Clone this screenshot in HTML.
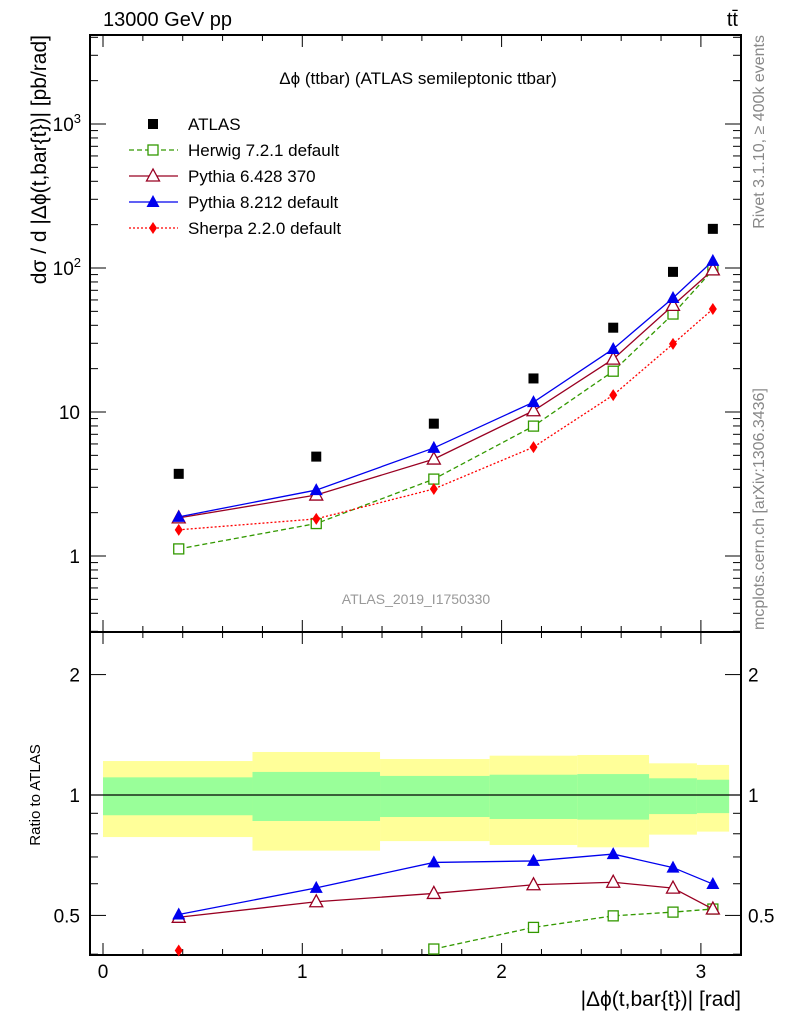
<!DOCTYPE html>
<html><head><meta charset="utf-8"><style>
body{margin:0;background:#fff}
svg{display:block;font-family:"Liberation Sans",sans-serif}
</style></head><body>
<svg id="c" width="786" height="1024" xmlns="http://www.w3.org/2000/svg"></svg>
<script>
const binEdges=[0,0.75,1.39,1.94,2.38,2.74,2.98,3.1416];
const binCenters=[0.38,1.07,1.66,2.16,2.56,2.86,3.06];
const atlas=[3.72,4.9,8.3,17.1,38.5,94,187];
const herwig=[1.12,1.68,3.42,7.98,19.2,47.9,97];
const pythia6=[1.84,2.65,4.71,10.2,23.3,55,97];
const pythia8=[1.87,2.87,5.63,11.7,27.4,61.9,112];
const sherpa=[1.52,1.81,2.92,5.7,13.1,29.7,51.9];
const yellowUp=[1.216,1.281,1.230,1.254,1.259,1.200,1.189];
const yellowDn=[0.785,0.726,0.767,0.750,0.740,0.796,0.810];
const greenUp=[1.107,1.142,1.116,1.124,1.128,1.101,1.092];
const greenDn=[0.890,0.861,0.881,0.871,0.868,0.896,0.901];
const mainTicks=[1,10,100,1000];
const mainTickLabels=["1","10","10<tspan dy='-8' font-size='13'>2</tspan>","10<tspan dy='-8' font-size='13'>3</tspan>"];
const ratioTicks=[0.5,1,2];
const ratioTickLabels=["0.5","1","2"];
const xTicks=[0,1,2,3];

const svg=document.getElementById('c');
const NS='http://www.w3.org/2000/svg';
const X0=90,X1=741,MT=35,MB=632,RB=955;
const xs=v=>103+v*199.3;
const ym=v=>556-144*Math.log10(v);
const yr=v=>795-400*Math.log10(v);
function el(tag,attrs,parent,name,txt){const e=document.createElementNS(NS,tag);for(const k in attrs)e.setAttribute(k,attrs[k]);


if(txt!==undefined)e.innerHTML=txt;(parent||svg).appendChild(e);return e;}

binCenters.forEach((c,i)=>{
 el('rect',{x:xs(binEdges[i]),y:yr(yellowUp[i]),width:xs(binEdges[i+1])-xs(binEdges[i]),height:yr(yellowDn[i])-yr(yellowUp[i]),fill:'#ffff99'},svg,'ratio-total-band');
});
binCenters.forEach((c,i)=>{
 el('rect',{x:xs(binEdges[i]),y:yr(greenUp[i]),width:xs(binEdges[i+1])-xs(binEdges[i]),height:yr(greenDn[i])-yr(greenUp[i]),fill:'#99ff99'},svg,'ratio-stat-band');
});
el('line',{x1:X0,x2:X1,y1:yr(1),y2:yr(1),stroke:'#000','stroke-width':1.2},svg,'ratio-unity-line');

el('rect',{x:X0,y:MT,width:X1-X0,height:MB-MT,fill:'none',stroke:'#000','stroke-width':2},svg,'main-frame');
el('rect',{x:X0,y:MB,width:X1-X0,height:RB-MB,fill:'none',stroke:'#000','stroke-width':2},svg,'ratio-frame');

for(let v=0;v<=3.2;v+=0.2){const x=xs(v);if(x>X1)break;const maj=Math.abs(v-Math.round(v))<1e-6;const L=maj?12:6;
 [[MT,1],[MB,-1],[MB,1],[RB,-1]].forEach(([y,d])=>el('line',{x1:x,x2:x,y1:y,y2:y+d*L,stroke:'#000'},svg,'x-tick'));}
xTicks.forEach(v=>el('text',{x:xs(v),y:978,'font-size':19,'text-anchor':'middle'},svg,'x-tick-label',v));
for(let d=-1;d<=3;d++)for(let m=1;m<10;m++){const v=m*Math.pow(10,d);const y=ym(v);if(y<MT||y>MB)continue;const L=m==1?16:8;
 el('line',{x1:X0,x2:X0+L,y1:y,y2:y,stroke:'#000'},svg,'y-tick');el('line',{x1:X1,x2:X1-L,y1:y,y2:y,stroke:'#000'},svg,'y-tick');}
mainTicks.forEach((v,i)=>el('text',{x:i>=2?81:80,y:ym(v)+7,'font-size':19,'text-anchor':'end'},svg,'y-tick-label',mainTickLabels[i]));
[0.4,0.5,0.6,0.7,0.8,0.9,1,2].forEach(v=>{const y=yr(v);if(y>RB)return;const L=(v==0.5||v==1||v==2)?16:8;
 el('line',{x1:X0,x2:X0+L,y1:y,y2:y,stroke:'#000'},svg,'ratio-tick');el('line',{x1:X1,x2:X1-L,y1:y,y2:y,stroke:'#000'},svg,'ratio-tick');});
ratioTicks.forEach((v,i)=>{el('text',{x:80,y:yr(v)+7,'font-size':19,'text-anchor':'end'},svg,'ratio-tick-label',ratioTickLabels[i]);
 el('text',{x:748,y:yr(v)+7,'font-size':19},svg,'ratio-tick-label-right',ratioTickLabels[i]);});

function marker(kind,x,y,col,g){
 if(kind=='sq')el('rect',{x:x-5,y:y-5,width:10,height:10,fill:'#000'},g,'marker');
 if(kind=='osq')el('rect',{x:x-5,y:y-5,width:10,height:10,fill:'#fff',stroke:col,'stroke-width':1.3},g,'marker');
 if(kind=='otri')el('polygon',{points:`${x},${y-7} ${x-6.5},${y+5} ${x+6.5},${y+5}`,fill:'#fff',stroke:col,'stroke-width':1.3},g,'marker');
 if(kind=='tri')el('polygon',{points:`${x},${y-7} ${x-6.5},${y+5} ${x+6.5},${y+5}`,fill:col},g,'marker');
 if(kind=='dia')el('polygon',{points:`${x},${y-6} ${x-4},${y} ${x},${y+6} ${x+4},${y}`,fill:col},g,'marker');
}
const series=[
 {n:'herwig',d:herwig,c:'#339900',dash:'5,3',m:'osq'},
 {n:'pythia6',d:pythia6,c:'#990022',dash:'',m:'otri'},
 {n:'pythia8',d:pythia8,c:'#0000ee',dash:'',m:'tri'},
 {n:'sherpa',d:sherpa,c:'#ff0000',dash:'2,2',m:'dia'}];
series.forEach(s=>{
 const g=el('g',{},svg,s.n+'-series');
 el('polyline',{points:s.d.map((v,i)=>xs(binCenters[i])+','+ym(v)).join(' '),fill:'none',stroke:s.c,'stroke-width':1.3,'stroke-dasharray':s.dash},g,s.n+'-line');
 s.d.forEach((v,i)=>marker(s.m,xs(binCenters[i]),ym(v),s.c,g));
 const gr=el('g',{},svg,s.n+'-ratio-series');
 const pts=[];s.d.forEach((v,i)=>{const r=v/atlas[i];const y=yr(r);if(y<=RB+1&&y>=MB)pts.push([xs(binCenters[i]),y]);});
 if(pts.length>1)el('polyline',{points:pts.map(p=>p.join(',')).join(' '),fill:'none',stroke:s.c,'stroke-width':1.3,'stroke-dasharray':s.dash},gr,s.n+'-ratio-line');
 pts.forEach(p=>marker(s.m,p[0],p[1],s.c,gr));
});
const ga=el('g',{},svg,'atlas-series');
atlas.forEach((v,i)=>marker('sq',xs(binCenters[i]),ym(v),'#000',ga));

const leg=el('g',{},svg,'legend');
const lg=[['sq','#000','','ATLAS'],['osq','#339900','5,3','Herwig 7.2.1 default'],['otri','#990022','','Pythia 6.428 370'],['tri','#0000ee','','Pythia 8.212 default'],['dia','#ff0000','2,2','Sherpa 2.2.0 default']];
lg.forEach((l,i)=>{const y=124+i*26;const e=el('g',{},leg,'legend-entry');
 if(i>0)el('line',{x1:129,x2:178,y1:y,y2:y,stroke:l[1],'stroke-width':1.3,'stroke-dasharray':l[2]},e,'legend-line');
 marker(l[0],153,y,l[1],e);
 el('text',{x:188,y:y+6,'font-size':17},e,'legend-label',l[3]);});

el('text',{x:103,y:26,'font-size':20},svg,'energy-label','13000 GeV pp');
el('text',{x:738,y:26,'font-size':20,'text-anchor':'end'},svg,'process-label','tt̄');
el('text',{x:418,y:84,'font-size':17,'text-anchor':'middle'},svg,'plot-title','Δϕ (ttbar) (ATLAS semileptonic ttbar)');
el('text',{x:416,y:604,'font-size':14,'text-anchor':'middle',fill:'#999'},svg,'analysis-id','ATLAS_2019_I1750330');
el('text',{x:741,y:1006,'font-size':21,'text-anchor':'end'},svg,'x-axis-title','|Δϕ(t,bar{t})| [rad]');
el('text',{transform:'translate(46,35) rotate(-90)','font-size':21,'text-anchor':'end'},svg,'y-axis-title','dσ / d |Δϕ(t,bar{t})| [pb/rad]');
el('text',{transform:'translate(40,795) rotate(-90)','font-size':15,'text-anchor':'middle'},svg,'ratio-axis-title','Ratio to ATLAS');
el('text',{transform:'translate(764,35) rotate(-90)','font-size':16,'text-anchor':'end',fill:'#888'},svg,'rivet-label','Rivet 3.1.10, ≥ 400k events');
el('text',{transform:'translate(764,630) rotate(-90)','font-size':16,fill:'#888'},svg,'mcplots-label','mcplots.cern.ch [arXiv:1306.3436]');
</script>
</body></html>
